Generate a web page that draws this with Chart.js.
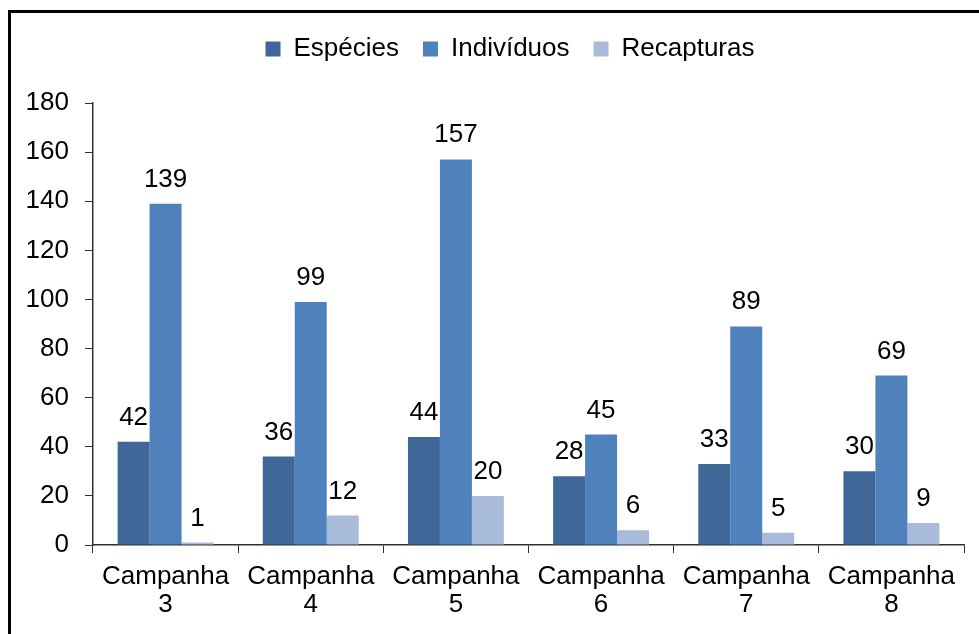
<!DOCTYPE html>
<html>
<head>
<meta charset="utf-8">
<script src="https://cdn.jsdelivr.net/npm/chart.js@4.4.1/dist/chart.umd.min.js"></script>
<style>
  html, body { margin: 0; padding: 0; background: #fff; }
  #wrap { width: 979px; height: 634px; }
</style>
</head>
<body>
<div id="wrap"><canvas id="chart"></canvas></div>
<script>
// data
const campanhas = [["Campanha", "3"], ["Campanha", "4"], ["Campanha", "5"], ["Campanha", "6"], ["Campanha", "7"], ["Campanha", "8"]];
const especies = [42, 36, 44, 28, 33, 30];
const individuos = [139, 99, 157, 45, 89, 69];
const recapturas = [1, 12, 20, 6, 5, 9];
const yTicks = [0, 20, 40, 60, 80, 100, 120, 140, 160, 180];

const FONT = "'Liberation Sans', Arial, sans-serif";
const AXIS = "#303030";

// value labels above each bar
const valueLabels = {
  id: "valueLabels",
  afterDatasetsDraw(chart) {
    const ctx = chart.ctx;
    ctx.save();
    ctx.font = "26px " + FONT;
    ctx.fillStyle = "#000";
    ctx.textAlign = "center";
    ctx.textBaseline = "alphabetic";
    chart.data.datasets.forEach((ds, i) => {
      chart.getDatasetMeta(i).data.forEach((bar, j) => {
        ctx.fillText(String(ds.data[j]), bar.x, bar.y - 17);
      });
    });
    ctx.restore();
  }
};

// legend sits a bit right of the canvas centre in the original
const legendShift = {
  id: "legendShift",
  afterLayout(chart) {
    chart.legend.left += 36;
  }
};

// frame around the chart (only top and left edges are inside the picture)
const frame = {
  id: "frame",
  afterDraw(chart) {
    const ctx = chart.ctx;
    ctx.save();
    ctx.strokeStyle = "#000";
    ctx.lineWidth = 3;
    ctx.beginPath();
    ctx.moveTo(9.5, 700);
    ctx.lineTo(9.5, 11.5);
    ctx.lineTo(1000, 11.5);
    ctx.stroke();
    ctx.restore();
  }
};

new Chart(document.getElementById("chart"), {
  type: "bar",
  data: {
    labels: campanhas,
    datasets: [
      { label: "Espécies", data: especies, backgroundColor: "#3F6797" },
      { label: "Indivíduos", data: individuos, backgroundColor: "#4F81BD" },
      { label: "Recapturas", data: recapturas, backgroundColor: "#A8BBDA" }
    ]
  },
  options: {
    responsive: true,
    maintainAspectRatio: false,
    animation: false,
    datasets: { bar: { categoryPercentage: 0.661, barPercentage: 1 } },
    layout: { padding: { left: 20, right: 15, top: 12, bottom: 0 } },
    plugins: {
      tooltip: { enabled: false },
      legend: {
        position: "top",
        labels: {
          color: "#000",
          font: { family: FONT, size: 26 },
          boxWidth: 15,
          boxHeight: 15,
          padding: 24
        }
      },
      // empty spacer between legend and plot
      subtitle: { display: true, text: "", weight: 500, font: { size: 1, lineHeight: 1 }, padding: { top: 15, bottom: 15 } }
    },
    scales: {
      x: {
        grid: { drawOnChartArea: false, color: AXIS, tickLength: 8, offset: true },
        border: { color: AXIS, width: 1.5 },
        ticks: { color: "#000", font: { family: FONT, size: 26, lineHeight: 1.08 }, padding: 10, maxRotation: 0, autoSkip: false },
        afterFit(scale) { scale.height = 89; }
      },
      y: {
        min: 0,
        max: 180,
        afterBuildTicks(scale) { scale.ticks = yTicks.map(v => ({ value: v })); },
        grid: { drawOnChartArea: false, color: AXIS, tickLength: 8 },
        border: { color: AXIS, width: 1.5 },
        ticks: { color: "#000", font: { family: FONT, size: 26 }, padding: 16 },
        afterFit(scale) { scale.width = 73; }
      }
    }
  },
  plugins: [valueLabels, legendShift, frame]
});
</script>
</body>
</html>
